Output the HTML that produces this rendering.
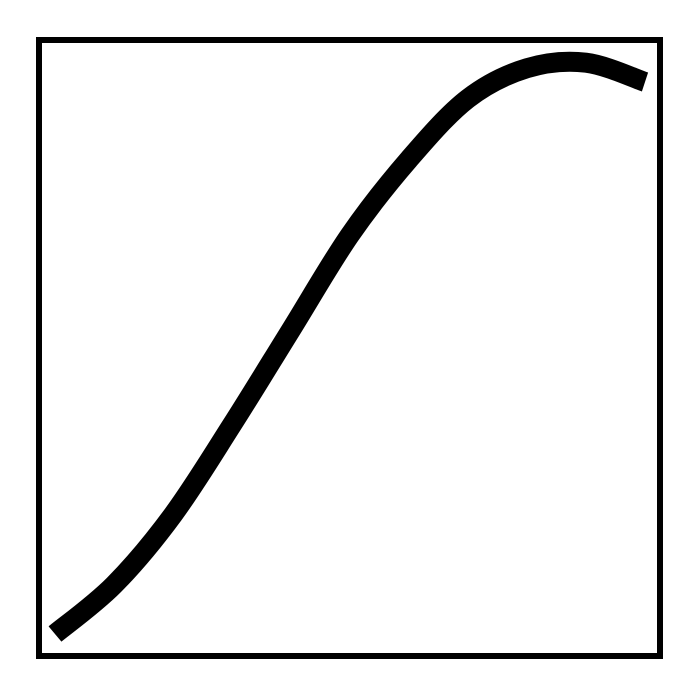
<!DOCTYPE html>
<html>
<head>
<meta charset="utf-8">
<style>
  html, body { margin: 0; padding: 0; background: #fff; }
  svg { display: block; }
</style>
</head>
<body>
<svg id="chart" width="700" height="696" viewBox="0 0 700 696">
  <rect x="0" y="0" width="700" height="696" fill="#fff"></rect>
  <rect x="39" y="40" width="621" height="616" fill="none" stroke="#000" stroke-width="6"></rect>
  <path id="series" fill="none" stroke="#000" stroke-width="20"></path>
</svg>
<script>
const xValues = [0, 1, 2, 3, 4, 5, 6, 7, 8, 9, 10];
const yValues = [0, 0.89, 2.16, 3.79, 5.51, 7.23, 8.6, 9.7, 10.25, 10.35, 10.0];

function xScale(v) { return 55 + v * 59; }
function yScale(v) { return 634 - v * 55.2; }

(function draw() {
  const pts = xValues.map((x, i) => [xScale(x), yScale(yValues[i])]);
  let d = 'M' + pts[0][0] + ',' + pts[0][1];
  for (let i = 0; i < pts.length - 1; i++) {
    const p0 = pts[i - 1] || pts[i];
    const p1 = pts[i];
    const p2 = pts[i + 1];
    const p3 = pts[i + 2] || p2;
    const c1x = p1[0] + (p2[0] - p0[0]) / 6;
    const c1y = p1[1] + (p2[1] - p0[1]) / 6;
    const c2x = p2[0] - (p3[0] - p1[0]) / 6;
    const c2y = p2[1] - (p3[1] - p1[1]) / 6;
    d += ' C' + c1x + ',' + c1y + ' ' + c2x + ',' + c2y + ' ' + p2[0] + ',' + p2[1];
  }
  document.getElementById('series').setAttribute('d', d);
})();
</script>
</body>
</html>
